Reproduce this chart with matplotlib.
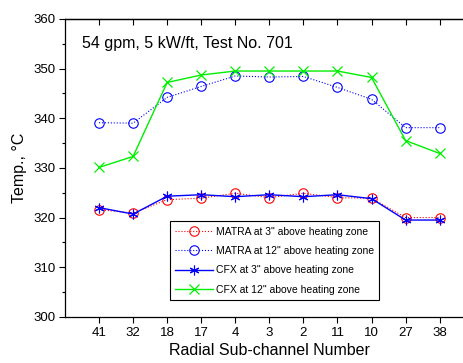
import matplotlib
matplotlib.use("Agg")
import matplotlib.pyplot as plt
from matplotlib.ticker import MultipleLocator

plt.rcParams['font.family'] = ['Liberation Sans', 'DejaVu Sans']

# sub-channel labels along the radial traverse
channels = ["41", "32", "18", "17", "4", "3", "2", "11", "10", "27", "38"]

# temperatures (deg C)
matra_3in = [321.6, 320.9, 323.6, 323.9, 324.9, 324.0, 324.9, 324.0, 323.9, 320.0, 320.0]
matra_12in = [339.1, 339.0, 344.2, 346.4, 348.5, 348.3, 348.4, 346.2, 343.8, 338.1, 338.1]
cfx_3in = [322.0, 320.7, 324.3, 324.6, 324.2, 324.6, 324.2, 324.6, 323.8, 319.5, 319.5]
cfx_12in = [330.1, 332.3, 347.2, 348.7, 349.5, 349.5, 349.5, 349.5, 348.2, 335.5, 332.9]

x = list(range(1, len(channels) + 1))

fig = plt.figure(figsize=(4.64, 3.63), dpi=100)
ax = fig.add_axes([0.140, 0.127, 0.881, 0.821])

ax.plot(x, matra_3in, color="#ff0000", linestyle=":", linewidth=0.8, marker="o",
        markersize=6.8, markerfacecolor="none", markeredgewidth=0.8,
        label='MATRA at 3" above heating zone')
ax.plot(x, matra_12in, color="#0000ff", linestyle=":", linewidth=0.8, marker="o",
        markersize=6.8, markerfacecolor="none", markeredgewidth=0.8,
        label='MATRA at 12" above heating zone')
ax.plot(x, cfx_3in, color="#0000ff", linestyle="-", linewidth=1.0, marker=(6, 2, 0),
        markersize=7, markeredgewidth=0.8,
        label='CFX at 3" above heating zone')
ax.plot(x, cfx_12in, color="#00ee00", linestyle="-", linewidth=1.0, marker="x",
        markersize=6.5, markeredgewidth=0.9,
        label='CFX at 12" above heating zone')

ax.set_xlim(0, 12)
ax.set_ylim(300, 360)
ax.set_xticks(x)
ax.set_xticklabels(channels)
ax.yaxis.set_major_locator(MultipleLocator(10))
ax.yaxis.set_minor_locator(MultipleLocator(5))
ax.tick_params(axis="both", which="major", direction="out", length=4, width=0.8,
               labelsize=9.5, pad=3)
ax.tick_params(axis="y", which="minor", direction="out", length=2.5, width=0.8)
ax.spines["right"].set_visible(False)
for s in ("left", "bottom", "top"):
    ax.spines[s].set_linewidth(0.9)

# ticks on the top frame point into the plot
top = ax.secondary_xaxis("top")
top.set_xticks(x)
top.set_xticklabels([])
top.tick_params(direction="in", length=4, width=0.8)
top.spines["top"].set_linewidth(0.9)

ax.set_xlabel("Radial Sub-channel Number", fontsize=11.5, labelpad=3)
ax.set_ylabel("Temp., \u00b0C", fontsize=11.5, labelpad=4)

ax.text(0.042, 0.919, "54 gpm, 5 kW/ft, Test No. 701", transform=ax.transAxes,
        fontsize=11.5, va="center", ha="left")

leg = ax.legend(loc="lower left", bbox_to_anchor=(0.257, 0.057), fontsize=7.5,
                handlelength=3.6, frameon=True, fancybox=False, framealpha=1,
                edgecolor="black", borderpad=0.5, labelspacing=0.9, handletextpad=0.3,
                borderaxespad=0)
leg.get_frame().set_linewidth(0.8)

fig.savefig("out.png", dpi=100)
